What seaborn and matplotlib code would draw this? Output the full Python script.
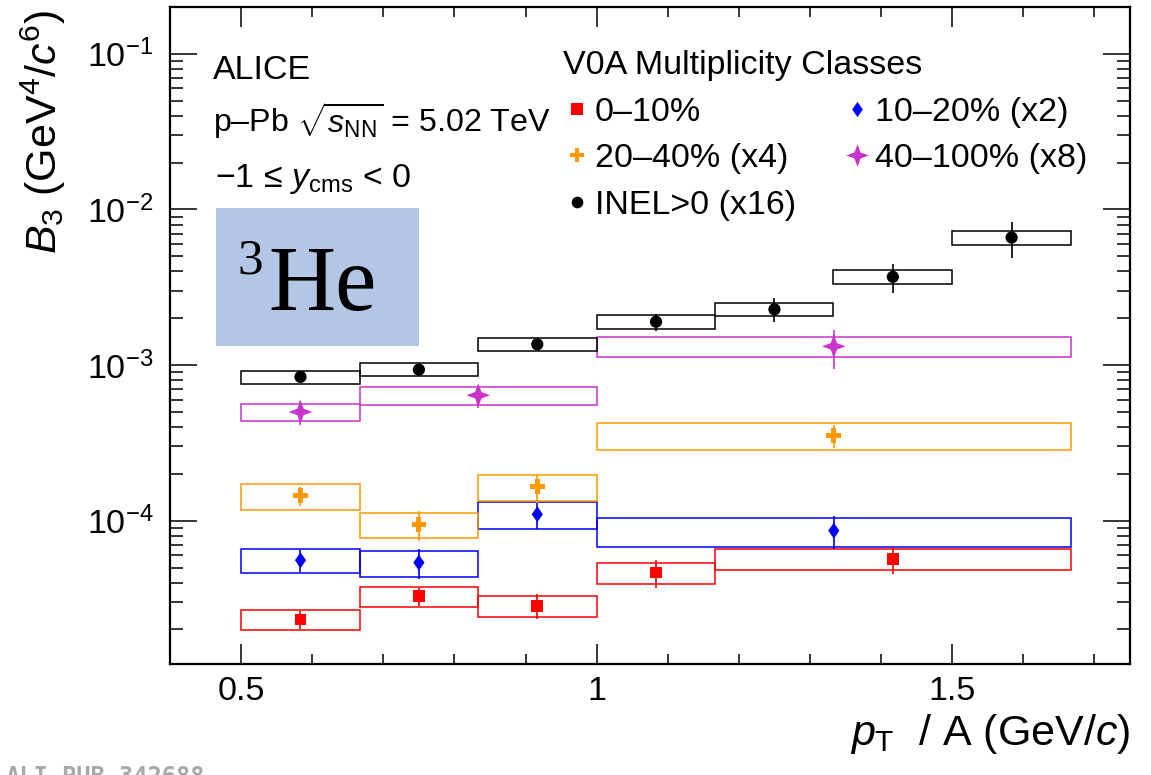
import numpy as np
import pandas as pd
import matplotlib
matplotlib.use("Agg")
import matplotlib.pyplot as plt
from matplotlib.path import Path
from matplotlib.lines import Line2D
from matplotlib.patches import Rectangle
from matplotlib.ticker import LogLocator, MultipleLocator, FuncFormatter, NullFormatter
import seaborn as sns

# ---------------------------------------------------------------------------
# B3 coalescence parameter of 3He in p-Pb at 5.02 TeV (values already scaled
# by the factor quoted in each class label). Bins in pT/A (GeV/c).
# ---------------------------------------------------------------------------
classes = ["0–10%", "10–20% (x2)", "20–40% (x4)", "40–100% (x8)", "INEL>0 (x16)"]

pt_lo_0_10 = [0.5, 0.667, 0.833, 1.0, 1.167]
pt_hi_0_10 = [0.667, 0.833, 1.0, 1.167, 1.667]
b3_0_10 = [2.32e-5, 3.27e-5, 2.84e-5, 4.64e-5, 5.67e-5]
stat_0_10 = [0.30e-5, 0.45e-5, 0.52e-5, 0.95e-5, 1.12e-5]
syst_0_10 = [0.335e-5, 0.47e-5, 0.43e-5, 0.72e-5, 0.87e-5]

pt_lo_10_20 = [0.5, 0.667, 0.833, 1.0]
pt_hi_10_20 = [0.667, 0.833, 1.0, 1.667]
b3_10_20 = [5.57e-5, 5.38e-5, 1.10e-4, 8.63e-5]
stat_10_20 = [0.90e-5, 1.18e-5, 2.10e-5, 2.04e-5]
syst_10_20 = [0.98e-5, 1.04e-5, 2.19e-5, 1.82e-5]

pt_lo_20_40 = [0.5, 0.667, 0.833, 1.0]
pt_hi_20_40 = [0.667, 0.833, 1.0, 1.667]
b3_20_40 = [1.445e-4, 9.5e-5, 1.65e-4, 3.54e-4]
stat_20_40 = [0.20e-4, 0.205e-4, 0.35e-4, 0.60e-4]
syst_20_40 = [0.277e-4, 0.179e-4, 0.32e-4, 0.705e-4]

pt_lo_40_100 = [0.5, 0.667, 1.0]
pt_hi_40_100 = [0.667, 1.0, 1.667]
b3_40_100 = [5.0e-4, 6.4e-4, 1.32e-3]
stat_40_100 = [0.86e-4, 1.09e-4, 0.37e-3]
syst_40_100 = [0.65e-4, 0.84e-4, 0.185e-3]

pt_lo_inel = [0.5, 0.667, 0.833, 1.0, 1.167, 1.333, 1.5]
pt_hi_inel = [0.667, 0.833, 1.0, 1.167, 1.333, 1.5, 1.667]
b3_inel = [8.4e-4, 9.35e-4, 1.36e-3, 1.90e-3, 2.28e-3, 3.69e-3, 6.6e-3]
stat_inel = [0.5e-4, 0.6e-4, 0.8e-4, 0.245e-3, 0.40e-3, 0.80e-3, 1.74e-3]
syst_inel = [0.80e-4, 0.90e-4, 0.125e-3, 0.19e-3, 0.215e-3, 0.365e-3, 0.71e-3]

series = {
    classes[0]: (pt_lo_0_10, pt_hi_0_10, b3_0_10, stat_0_10, syst_0_10),
    classes[1]: (pt_lo_10_20, pt_hi_10_20, b3_10_20, stat_10_20, syst_10_20),
    classes[2]: (pt_lo_20_40, pt_hi_20_40, b3_20_40, stat_20_40, syst_20_40),
    classes[3]: (pt_lo_40_100, pt_hi_40_100, b3_40_100, stat_40_100, syst_40_100),
    classes[4]: (pt_lo_inel, pt_hi_inel, b3_inel, stat_inel, syst_inel),
}

rows = []
for cls, (lo, hi, val, st, sy) in series.items():
    for a, b, v, e, s in zip(lo, hi, val, st, sy):
        rows.append(dict(cls=cls, lo=a, hi=b, pt=0.5 * (a + b), b3=v, stat=e, syst=s))
df = pd.DataFrame(rows)

# ---------------------------------------------------------------------------
# Styles
# ---------------------------------------------------------------------------
colors = {
    classes[0]: "#FF0000",
    classes[1]: "#0000FF",
    classes[2]: "#FF9900",
    classes[3]: "#CC33CC",
    classes[4]: "#000000",
}

star4 = Path([(0, 1), (0.27, 0.27), (1, 0), (0.27, -0.27), (0, -1),
              (-0.27, -0.27), (-1, 0), (-0.27, 0.27), (0, 1)],
             [Path.MOVETO] + [Path.LINETO] * 7 + [Path.CLOSEPOLY])
diamond = Path([(0, 1), (0.7, 0), (0, -1), (-0.7, 0), (0, 1)],
               [Path.MOVETO] + [Path.LINETO] * 3 + [Path.CLOSEPOLY])

markers = {
    classes[0]: "s",
    classes[1]: diamond,
    classes[2]: "P",
    classes[3]: star4,
    classes[4]: "o",
}
msize = {  # marker size in points
    classes[0]: 8.4,
    classes[1]: 11.5,
    classes[2]: 10.6,
    classes[3]: 17.0,
    classes[4]: 8.8,
}

sns.set_theme(style="ticks")
plt.rcParams["font.family"] = ["Liberation Sans", "DejaVu Sans"]
plt.rcParams.update({
    "mathtext.fontset": "custom",
    "mathtext.rm": "Liberation Sans",
    "mathtext.it": "Liberation Sans:italic",
    "mathtext.bf": "Liberation Sans:bold",
    "mathtext.sf": "Liberation Sans",
    "text.color": "black",
    "axes.labelcolor": "black",
    "xtick.color": "black",
    "ytick.color": "black",
})

W, H = 1151, 775
fig = plt.figure(figsize=(W / 100, H / 100), dpi=100)
ax = fig.add_axes([170 / W, 1 - 664 / H, 960 / W, 657 / H])
ax.set_yscale("log")


def fx(px):
    return px / W


def fy(py):
    return 1 - py / H


# systematic uncertainty boxes
for cls in classes:
    d = df[df.cls == cls]
    ax.bar(d.pt, 2 * d.syst, bottom=d.b3 - d.syst, width=d.hi - d.lo,
           fill=False, edgecolor=colors[cls], linewidth=1.1, zorder=2)

# statistical uncertainties
for cls in classes:
    d = df[df.cls == cls]
    ax.errorbar(d.pt, d.b3, yerr=d.stat, fmt="none", ecolor=colors[cls],
                elinewidth=1.2, capsize=0, zorder=3)

# data points
sns.scatterplot(data=df, x="pt", y="b3", hue="cls", style="cls", size="cls",
                palette=colors, markers=markers,
                sizes={c: msize[c] ** 2 for c in classes},
                linewidth=0, legend=False, ax=ax, zorder=4)

ax.set_xlim(0.4, 1.75)
ax.set_ylim(1.2e-5, 0.2)

ax.xaxis.set_major_locator(MultipleLocator(0.5))
ax.xaxis.set_minor_locator(MultipleLocator(0.1))
ax.xaxis.set_major_formatter(FuncFormatter(lambda v, p: f"{v:g}"))
ax.yaxis.set_major_locator(LogLocator(base=10))
ax.yaxis.set_minor_locator(LogLocator(base=10, subs=np.arange(2, 10)))
ax.yaxis.set_minor_formatter(NullFormatter())

ax.tick_params(which="both", direction="in", top=True, right=True, width=1.1)
ax.tick_params(axis="x", which="major", length=14.4, pad=9, labelsize=24.5)
ax.tick_params(axis="x", which="minor", length=7.2)
ax.tick_params(axis="y", which="major", length=19.4, pad=12, labelsize=24.5)
ax.tick_params(axis="y", which="minor", length=9.4)
for sp in ax.spines.values():
    sp.set_linewidth(1.6)
    sp.set_color("black")

ax.set_xlabel(r"$p_{\mathrm{T}}$  / A (GeV/$c$)", fontsize=31, loc="right")
ax.xaxis.set_label_coords(1.0, -0.073)
ax.set_ylabel(r"$B_{3}$ (GeV$^{4}$/$c^{6}$)", fontsize=31, loc="top")
ax.yaxis.set_label_coords(-0.106, 0.996)

# annotations
fs = 24.5
fig.text(fx(213), fy(79), "ALICE", fontsize=fs, va="baseline")
fig.text(fx(213), fy(132), r"p–Pb $\sqrt{s_{\mathrm{NN}}}$ = 5.02 TeV", fontsize=23.2, va="baseline")
fig.text(fx(215), fy(187), r"−1 ≤ $y_{\mathrm{cms}}$ < 0", fontsize=fs, va="baseline")

fig.patches.append(Rectangle((fx(216), fy(346)), (419 - 216) / W, (346 - 208) / H,
                             transform=fig.transFigure, facecolor="#B3C6E6",
                             edgecolor="none", zorder=1))
fig.text(fx(268), fy(310), "He", fontsize=67, family="Liberation Serif", va="baseline", zorder=3)
fig.text(fx(237), fy(273), "3", fontsize=37, family="Liberation Serif", va="baseline", zorder=3)

fig.text(fx(6), fy(784), "ALI-PUB-342688", fontsize=17, family="DejaVu Sans Mono",
         weight="bold", color="#a8a8a8", va="baseline")

# legend
order = [classes[0], classes[2], classes[4], classes[1], classes[3]]
handles = [Line2D([], [], linestyle="none", marker=markers[c], color=colors[c],
                  markersize=msize[c] * 0.95, markeredgewidth=0) for c in order]
leg = ax.legend(handles, order, ncol=2, loc="upper left",
                bbox_to_anchor=(fx(563), fy(50)), bbox_transform=fig.transFigure,
                frameon=False, fontsize=fs, title="V0A Multiplicity Classes",
                title_fontsize=fs, alignment="left", handlelength=0.8,
                handletextpad=0.13, columnspacing=1.41, labelspacing=0.46,
                borderpad=0, borderaxespad=0)

fig.savefig("out.png", dpi=100)
